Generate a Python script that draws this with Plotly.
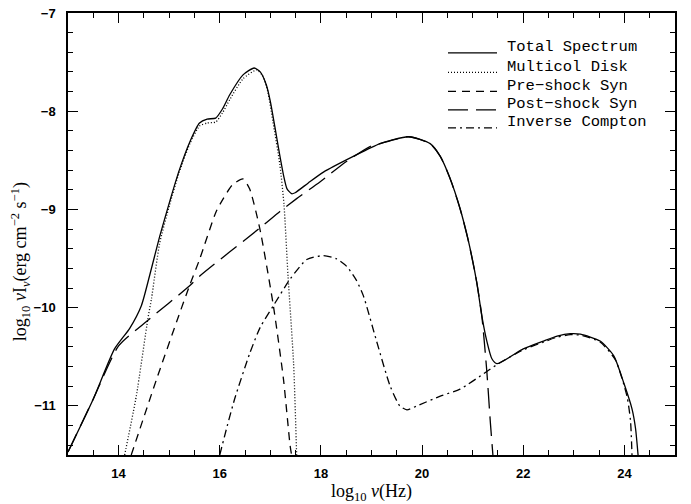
import plotly.graph_objects as go

# Total spectrum
total_x = [13.0, 13.5, 13.92, 14.22, 14.45, 14.61, 14.81, 15.01, 15.2, 15.41, 15.6, 15.75, 15.92,
           16.05, 16.2, 16.46, 16.68, 16.8, 16.92, 17.0, 17.09, 17.18, 17.26, 17.33, 17.42, 17.49,
           17.75, 18.05, 18.64, 19.17, 19.73, 20.16, 20.36, 20.55, 20.75, 20.92, 21.08, 21.18,
           21.28, 21.38, 21.48, 22.0, 22.4, 22.67, 22.93, 23.13, 23.52, 23.79, 23.99, 24.15, 24.22, 24.27]
total_y = [-11.47, -10.93, -10.42, -10.21, -9.98, -9.68, -9.28, -8.92, -8.6, -8.31, -8.12, -8.08, -8.07,
           -7.98, -7.83, -7.63, -7.56, -7.6, -7.73, -7.9, -8.16, -8.43, -8.65, -8.79, -8.84, -8.83,
           -8.73, -8.62, -8.46, -8.33, -8.26, -8.33, -8.46, -8.68, -8.99, -9.33, -9.74, -10.08,
           -10.34, -10.52, -10.57, -10.42, -10.34, -10.29, -10.265, -10.27, -10.34, -10.49, -10.77, -11.03, -11.23, -11.5]

# Multicolour disk
disk_x = [14.12, 14.35, 14.58, 14.65, 14.81, 15.01, 15.2, 15.41, 15.6, 15.75, 15.92, 16.05, 16.2,
          16.46, 16.73, 16.85, 16.95, 17.05, 17.19, 17.27, 17.35, 17.46, 17.52]
disk_y = [-11.5, -10.9, -10.11, -9.91, -9.35, -8.95, -8.62, -8.33, -8.15, -8.12, -8.11, -8.02, -7.88,
          -7.67, -7.58, -7.64, -7.8, -8.1, -8.55, -8.95, -9.68, -10.57, -11.5]

# Pre-shock synchrotron
pre_x = [14.25, 14.75, 15.17, 15.4, 15.6, 15.93, 16.07, 16.25, 16.46, 16.59, 16.79, 17.06, 17.26, 17.39, 17.42]
pre_y = [-11.5, -10.73, -10.11, -9.78, -9.51, -9.02, -8.89, -8.75, -8.69, -8.79, -9.19, -9.98, -10.73, -11.4, -11.5]

# Post-shock synchrotron
post_x = [13.0, 13.5, 14.0, 14.6, 15.4, 15.6, 16.79, 17.19, 17.52, 17.98, 18.51, 18.97, 19.17,
          19.73, 20.16, 20.36, 20.55, 20.75, 20.92, 21.08, 21.18, 21.28, 21.35, 21.4]
post_y = [-11.47, -10.93, -10.39, -10.12, -9.78, -9.68, -9.19, -9.02, -8.89, -8.72, -8.51, -8.36, -8.33,
          -8.26, -8.33, -8.46, -8.68, -8.99, -9.33, -9.74, -10.08, -10.65, -11.17, -11.5]

# Inverse Compton
ic_x = [16.0, 16.15, 16.3, 16.59, 16.8, 17.06, 17.39, 17.72, 18.05, 18.3, 18.51, 18.7, 18.84, 19.1,
        19.37, 19.56, 19.7, 19.9, 20.36, 20.75, 21.28, 21.51, 22.0, 22.4, 22.67, 22.93, 23.13, 23.52,
        23.82, 24.05, 24.12, 24.15]
ic_y = [-11.5, -11.2, -10.92, -10.47, -10.2, -9.98, -9.71, -9.51, -9.47, -9.5, -9.58, -9.72, -9.88, -10.34,
        -10.8, -11.0, -11.04, -11.0, -10.9, -10.83, -10.65, -10.57, -10.43, -10.35, -10.3, -10.275, -10.28, -10.35,
        -10.53, -10.9, -11.15, -11.5]

names = ["Total Spectrum", "Multicol Disk", "Pre-shock Syn", "Post-shock Syn", "Inverse Compton"]
legend_labels = ["Total Spectrum", "Multicol Disk", "Pre\u2212shock Syn", "Post\u2212shock Syn", "Inverse Compton"]
dashes = ["solid", "1px,2px", "8px,6px", "20px,8px", "8px,4px,2px,4px"]
series = [(total_x, total_y), (disk_x, disk_y), (pre_x, pre_y), (post_x, post_y), (ic_x, ic_y)]

fig = go.Figure()
for name, (xs, ys), dash in zip(names, series, dashes):
    fig.add_trace(go.Scatter(x=xs, y=ys, mode="lines", name=name, showlegend=False,
                             line=dict(color="black", width=1.3, dash=dash, shape="spline", smoothing=0.6)))

# plot-area geometry in pixels (for the hand-drawn legend)
L, R, T, B = 68, 675, 6, 460
def px(xp):
    return (xp - L) / (R - L)
def py(yp):
    return (B - yp) / (B - T)

row_centers = [41, 61, 80.5, 99.5, 118]
for lab, dash, yc in zip(legend_labels, dashes, row_centers):
    fig.add_shape(type="line", xref="paper", yref="paper", x0=px(448), x1=px(497),
                  y0=py(yc + 6), y1=py(yc + 6), line=dict(color="black", width=1.3, dash=dash))
    fig.add_annotation(xref="paper", yref="paper", x=px(505), y=py(yc), text=lab, showarrow=False,
                       xanchor="left", yanchor="middle",
                       font=dict(family="Liberation Mono", size=15.5, color="black"))

# y-axis title
fig.add_annotation(xref="paper", yref="paper", x=px(20), y=py(262), textangle=-90, showarrow=False,
                   xanchor="center", yanchor="middle",
                   text="log<sub>10</sub> <i>ν</i>I<sub><i>ν</i></sub>(erg cm<sup>−2</sup> s<sup>−1</sup>)",
                   font=dict(family="Liberation Serif", size=18, color="black"))

axis_common = dict(showgrid=False, zeroline=False, showline=True, linecolor="black", linewidth=1.5,
                   mirror="allticks", ticks="inside", tickcolor="black", tickwidth=1.2,
                   tickfont=dict(family="Liberation Sans", size=13, color="black", weight="bold"))

fig.update_xaxes(range=[13, 25], dtick=2, tick0=14, ticklen=10, ticklabelstandoff=6,
                 minor=dict(dtick=0.5, tick0=13, ticklen=5, ticks="inside", tickcolor="black", tickwidth=1.2),
                 title=dict(text="log<sub>10</sub> <i>ν</i>(Hz)", standoff=4,
                            font=dict(family="Liberation Serif", size=18, color="black")),
                 **axis_common)
fig.update_yaxes(range=[-11.5, -7], dtick=1, tick0=-7, ticklen=10, ticklabelstandoff=8,
                 minor=dict(dtick=0.2, tick0=-7, ticklen=5, ticks="inside", tickcolor="black", tickwidth=1.2),
                 **axis_common)

fig.update_layout(width=691, height=504, margin=dict(l=L, r=691 - R, t=T, b=504 - B),
                  paper_bgcolor="white", plot_bgcolor="white", showlegend=False)

fig.write_html("out.html")
